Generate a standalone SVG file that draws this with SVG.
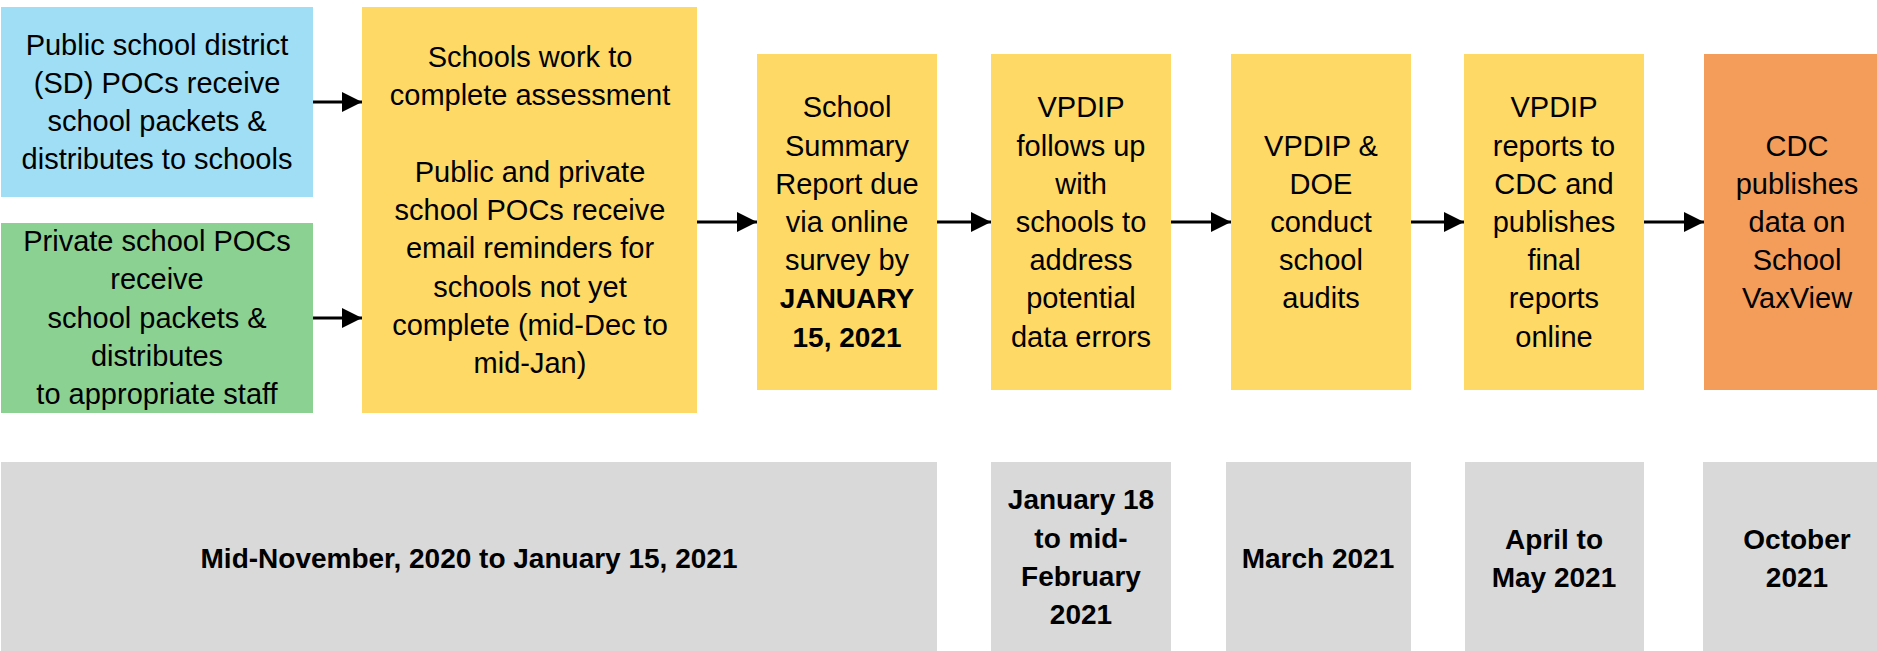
<svg xmlns="http://www.w3.org/2000/svg" width="1877" height="651" viewBox="0 0 1877 651">
  <style>
    .t { font-family: "Liberation Sans", Arial, sans-serif; font-size: 29px; fill: #000; text-anchor: middle; }
    .b { font-family: "Liberation Sans", Arial, sans-serif; font-size: 28px; font-weight: bold; fill: #000; text-anchor: middle; }
    .blue { fill: #9FDEF4; }
    .green { fill: #8BD192; }
    .yellow { fill: #FFD966; }
    .orange { fill: #F49C5A; }
    .gray { fill: #D9D9D9; }
    .link { stroke: #000; stroke-width: 3; fill: none; marker-end: url(#arrow); }
  </style>
  <defs>
    <marker id="arrow" markerUnits="userSpaceOnUse" markerWidth="20" markerHeight="20" viewBox="0 0 20 20" refX="20" refY="10" orient="auto">
      <path d="M0,0 L20,10 L0,20 Z" fill="#000"/>
    </marker>
  </defs>
  <rect width="1877" height="651" fill="#fff"/>

  <!-- process boxes -->
  <g id="public-sd">
    <rect class="blue" x="1" y="7" width="312" height="190"/>
    <text class="t" x="157" y="55">Public school district</text>
    <text class="t" x="157" y="93">(SD) POCs receive</text>
    <text class="t" x="157" y="131">school packets &amp;</text>
    <text class="t" x="157" y="169">distributes to schools</text>
  </g>
  <g id="private-pocs">
    <rect class="green" x="1" y="223" width="312" height="190"/>
    <text class="t" x="157" y="251">Private school POCs</text>
    <text class="t" x="157" y="289">receive</text>
    <text class="t" x="157" y="328">school packets &amp;</text>
    <text class="t" x="157" y="366">distributes</text>
    <text class="t" x="157" y="404">to appropriate staff</text>
  </g>
  <g id="assessment">
    <rect class="yellow" x="362" y="7" width="335" height="406"/>
    <text class="t" x="530" y="67">Schools work to</text>
    <text class="t" x="530" y="105">complete assessment</text>
    <text class="t" x="530" y="182">Public and private</text>
    <text class="t" x="530" y="220">school POCs receive</text>
    <text class="t" x="530" y="258">email reminders for</text>
    <text class="t" x="530" y="297">schools not yet</text>
    <text class="t" x="530" y="335">complete (mid-Dec to</text>
    <text class="t" x="530" y="373">mid-Jan)</text>
  </g>
  <g id="summary-report">
    <rect class="yellow" x="757" y="54" width="180" height="336"/>
    <text class="t" x="847" y="117">School</text>
    <text class="t" x="847" y="156">Summary</text>
    <text class="t" x="847" y="194">Report due</text>
    <text class="t" x="847" y="232">via online</text>
    <text class="t" x="847" y="270">survey by</text>
    <text class="b" x="847" y="308">JANUARY</text>
    <text class="b" x="847" y="347">15, 2021</text>
  </g>
  <g id="follow-up">
    <rect class="yellow" x="991" y="54" width="180" height="336"/>
    <text class="t" x="1081" y="117">VPDIP</text>
    <text class="t" x="1081" y="156">follows up</text>
    <text class="t" x="1081" y="194">with</text>
    <text class="t" x="1081" y="232">schools to</text>
    <text class="t" x="1081" y="270">address</text>
    <text class="t" x="1081" y="308">potential</text>
    <text class="t" x="1081" y="347">data errors</text>
  </g>
  <g id="audits">
    <rect class="yellow" x="1231" y="54" width="180" height="336"/>
    <text class="t" x="1321" y="156">VPDIP &amp;</text>
    <text class="t" x="1321" y="194">DOE</text>
    <text class="t" x="1321" y="232">conduct</text>
    <text class="t" x="1321" y="270">school</text>
    <text class="t" x="1321" y="308">audits</text>
  </g>
  <g id="final-reports">
    <rect class="yellow" x="1464" y="54" width="180" height="336"/>
    <text class="t" x="1554" y="117">VPDIP</text>
    <text class="t" x="1554" y="156">reports to</text>
    <text class="t" x="1554" y="194">CDC and</text>
    <text class="t" x="1554" y="232">publishes</text>
    <text class="t" x="1554" y="270">final</text>
    <text class="t" x="1554" y="308">reports</text>
    <text class="t" x="1554" y="347">online</text>
  </g>
  <g id="cdc-publishes">
    <rect class="orange" x="1704" y="54" width="173" height="336"/>
    <text class="t" x="1797" y="156">CDC</text>
    <text class="t" x="1797" y="194">publishes</text>
    <text class="t" x="1797" y="232">data on</text>
    <text class="t" x="1797" y="270">School</text>
    <text class="t" x="1797" y="308">VaxView</text>
  </g>

  <!-- timeline boxes -->
  <g id="period-1">
    <rect class="gray" x="1" y="462" width="936" height="189"/>
    <text class="b" x="469" y="568">Mid-November, 2020 to January 15, 2021</text>
  </g>
  <g id="period-2">
    <rect class="gray" x="991" y="462" width="180" height="189"/>
    <text class="b" x="1081" y="509">January 18</text>
    <text class="b" x="1081" y="548">to mid-</text>
    <text class="b" x="1081" y="586">February</text>
    <text class="b" x="1081" y="624">2021</text>
  </g>
  <g id="period-3">
    <rect class="gray" x="1226" y="462" width="185" height="189"/>
    <text class="b" x="1318" y="568">March 2021</text>
  </g>
  <g id="period-4">
    <rect class="gray" x="1465" y="462" width="179" height="189"/>
    <text class="b" x="1554" y="549">April to</text>
    <text class="b" x="1554" y="587">May 2021</text>
  </g>
  <g id="period-5">
    <rect class="gray" x="1703" y="462" width="174" height="189"/>
    <text class="b" x="1797" y="549">October</text>
    <text class="b" x="1797" y="587">2021</text>
  </g>

  <!-- connectors -->
  <g id="connectors">
    <line class="link" x1="313" y1="102" x2="362" y2="102"/>
    <line class="link" x1="313" y1="318" x2="362" y2="318"/>
    <line class="link" x1="697" y1="222" x2="757" y2="222"/>
    <line class="link" x1="937" y1="222" x2="991" y2="222"/>
    <line class="link" x1="1171" y1="222" x2="1231" y2="222"/>
    <line class="link" x1="1411" y1="222" x2="1464" y2="222"/>
    <line class="link" x1="1644" y1="222" x2="1704" y2="222"/>
  </g>
</svg>
